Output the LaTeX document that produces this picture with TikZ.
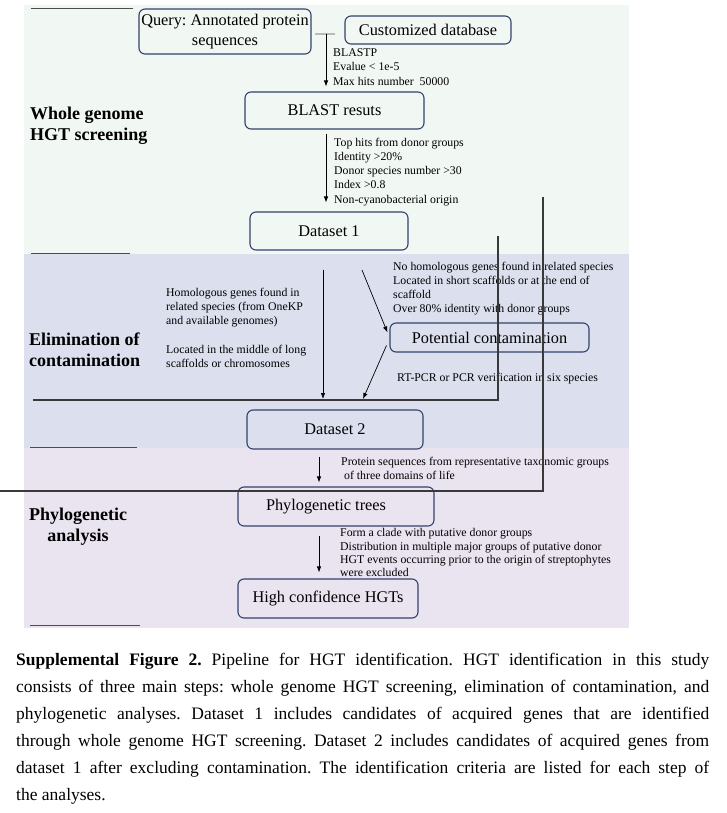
\documentclass[tikz,border=0pt]{standalone}
\usepackage{fontspec}
\setmainfont{Liberation Serif}
\usetikzlibrary{arrows.meta}
\definecolor{bandgreen}{HTML}{F1F7F3}
\definecolor{bandblue}{HTML}{DCE0EE}
\definecolor{bandpink}{HTML}{EAE3F0}
\definecolor{boxblue}{HTML}{34416B}
\frenchspacing

\begin{document}
\begin{tikzpicture}[x=1pt,y=-1pt,
  stage/.style={draw=boxblue, line width=1.1pt, rounded corners=6pt, align=center, inner sep=0pt,
    font=\fontsize{16.3}{20.5}\selectfont},
  note/.style={anchor=north west, align=left, inner sep=0pt, font=\fontsize{11.8}{14.3}\selectfont},
  phase/.style={inner sep=0pt, font=\fontsize{18}{21.5}\selectfont\bfseries},
  flow/.style={-{Latex[length=6pt,width=4.5pt]}, line width=0.7pt},
  frame/.style={draw=gray!45!black, line width=1.6pt},
  smear/.style={draw=gray!60!black, line width=0.8pt}]
\useasboundingbox (0,0) rectangle (726,813);

% the three bands
\fill[bandgreen] (24,5) rectangle (629,254);
\fill[bandblue] (24,254) rectangle (629,448);
\fill[bandpink] (24,448) rectangle (629,628);
\draw[smear] (31,8) -- (133,8);
\draw[smear] (31,253.5) -- (130,253.5);
\draw[smear] (30,447) -- (137,447);
\draw[smear] (30,625) -- (140,625);

\node[phase, anchor=north west, align=left] (whole) at (30,106.5) {Whole genome\\HGT screening};
\node[phase, anchor=north west, align=left] (elim) at (29,332.5) {Elimination of\\contamination};
\node[phase, anchor=north, align=center] (phylo) at (78,507.5) {Phylogenetic\\analysis};

% boxes
\node[stage, minimum width=172pt, minimum height=45pt] (query) at (225,31.5) {Query: Annotated protein\\sequences};
\node[stage, minimum width=166pt, minimum height=28pt] (db) at (428,30) {Customized database};
\node[stage, minimum width=179pt, minimum height=37pt] (blast) at (334.5,110.5) {BLAST resuts};
\node[stage, minimum width=158pt, minimum height=38pt] (set1) at (329,231) {Dataset 1};
\node[stage, minimum width=199pt, minimum height=29pt] (contam) at (489.5,337.5) {Potential contamination};
\node[stage, minimum width=176pt, minimum height=39pt] (set2) at (335,429.5) {Dataset 2};
\node[stage, minimum width=196pt, minimum height=39pt] (trees) at (336,506.5) {Phylogenetic trees\hspace{20pt}};
\node[stage, minimum width=180pt, minimum height=39pt] (hgts) at (328,598.5) {High confidence HGTs};

% criteria
\node[note] (blastp) at (333,48.5) {BLASTP\\Evalue < 1e-5\\Max hits number\ \ 50000};
\node[note] (tophits) at (334,137.5) {Top hits from donor groups\\Identity >20\%\\Donor species number >30\\Index >0.8\\Non-cyanobacterial origin};
\node[note] (homol) at (166,287.5) {Homologous genes found in\\related species (from OneKP\\and available genomes)\\[14.3pt]Located in the middle of long\\scaffolds or chromosomes};
\node[note] (nohomol) at (393,261.5) {No homologous genes found in related species\\Located in short scaffolds or at the end of\\scaffold\\Over 80\% identity with donor groups};
\node[note] (pcr) at (397,372.5) {RT-PCR or PCR verification in six species};
\node[note] (protseq) at (341,456.5) {Protein sequences from representative taxonomic groups\\\ of three domains of life};
\node[note, font=\fontsize{11.8}{13.2}\selectfont] (clade) at (340,528.5) {Form a clade with putative donor groups\\Distribution in multiple major groups of putative donor\\HGT events occurring prior to the origin of streptophytes\\were excluded};

% connectors
\coordinate (join) at (326,34);
\coordinate (spine) at (319,0);
\coordinate (keepend) at (323,399);
\coordinate (suspect) at (362,270);
\coordinate (pcrend) at (363,399);
\draw[gray!55, line width=2pt] ([xshift=-11pt]join) -- ([xshift=9pt]join);
\draw[flow, shorten >=5pt] (join) -- (join |- blast.north);
\draw[flow, shorten <=4pt, shorten >=9pt] (blast.south -| join) -- (set1.north -| join);
\draw[flow, shorten <=19pt] (set1.south -| keepend) -- (keepend);
\draw[flow] (suspect) -- ([shift={(-2pt,-10pt)}]contam.north west);
\draw[flow] ([shift={(-3pt,7pt)}]contam.south west) -- (pcrend);
\draw[flow, shorten <=7pt, shorten >=4pt] (set2.south -| spine) -- (trees.north -| spine);
\draw[flow, shorten <=9pt, shorten >=6pt] (trees.south -| spine) -- (hgts.north -| spine);

% overlaid frame edges
\draw[frame] (498,236) -- (498,400) -- (33,400);
\draw[frame] (543,197) -- (543,491) -- (0,491);

\node[anchor=north west, inner sep=0pt, text width=693pt, align=justify,
  font=\fontsize{17.5}{27}\selectfont] (caption) at (16,652.7)
  {\textbf{Supplemental Figure 2.} Pipeline for HGT identification. HGT identification in this study\linebreak
  consists of three main steps: whole genome HGT screening, elimination of contamination, and\linebreak
  phylogenetic analyses. Dataset 1 includes candidates of acquired genes that are identified\linebreak
  through whole genome HGT screening. Dataset 2 includes candidates of acquired genes from\linebreak
  dataset 1 after excluding contamination. The identification criteria are listed for each step of\linebreak
  the analyses.};
\end{tikzpicture}
\end{document}
